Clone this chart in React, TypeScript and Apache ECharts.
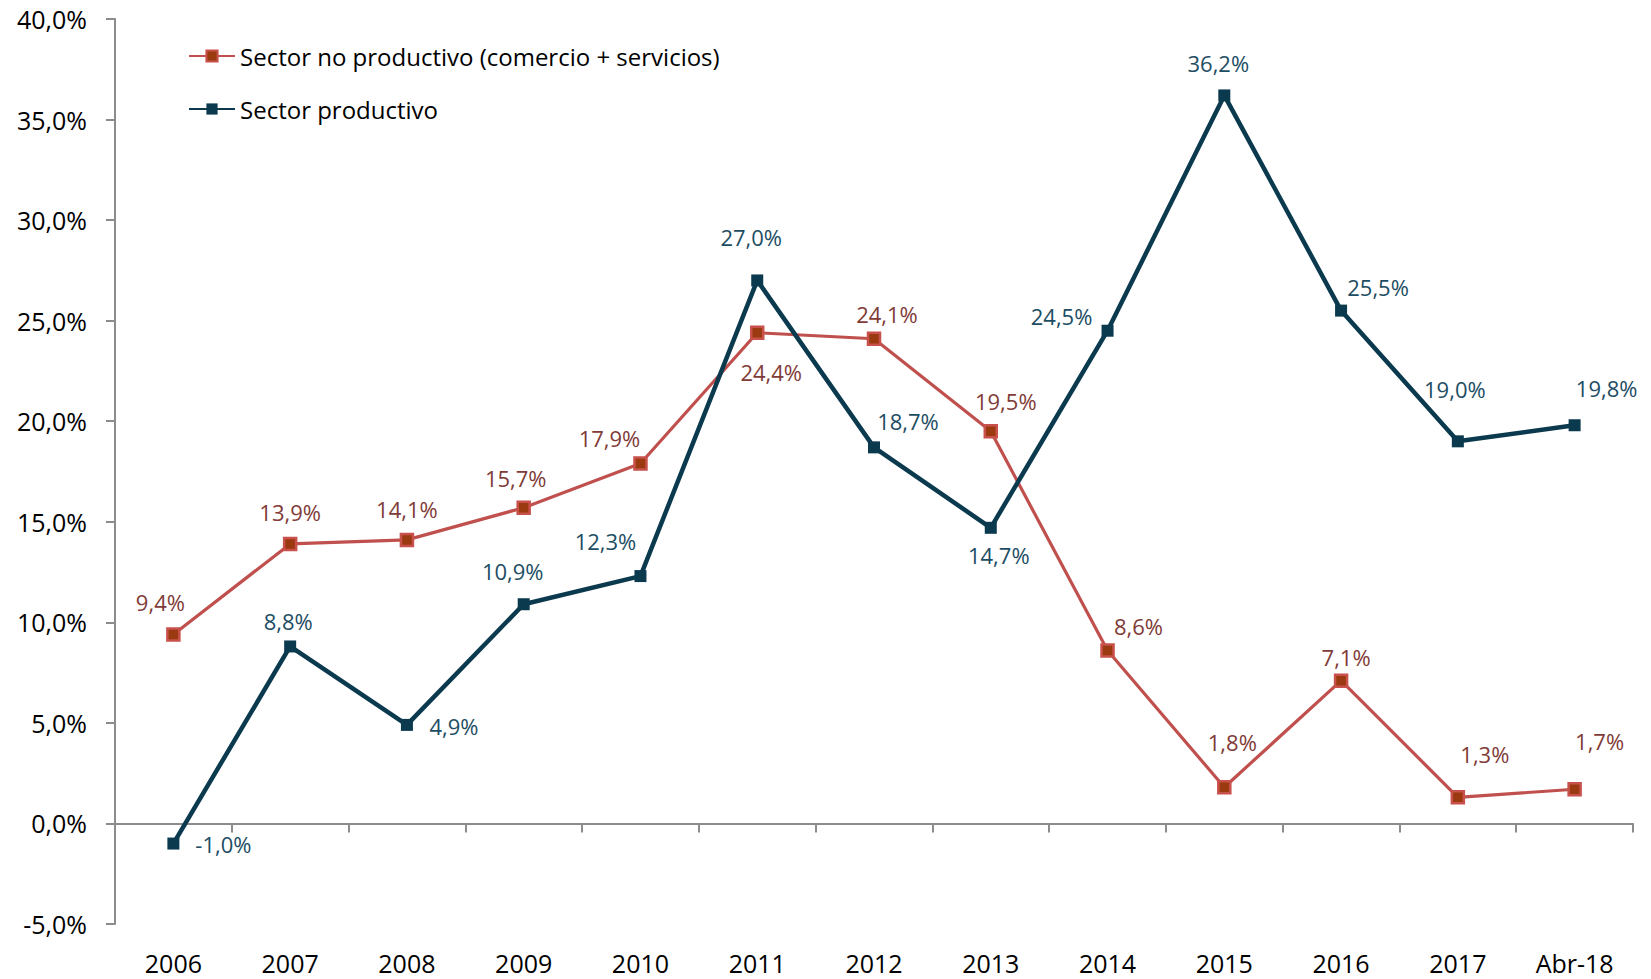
import React, { useEffect, useRef } from "react";
import * as echarts from "echarts";

const categories = ["2006", "2007", "2008", "2009", "2010", "2011", "2012", "2013", "2014", "2015", "2016", "2017", "Abr-18"];
const noProductivo = [9.4, 13.9, 14.1, 15.7, 17.9, 24.4, 24.1, 19.5, 8.6, 1.8, 7.1, 1.3, 1.7];
const productivo = [-1.0, 8.8, 4.9, 10.9, 12.3, 27.0, 18.7, 14.7, 24.5, 36.2, 25.5, 19.0, 19.8];
const seriesNames = ["Sector no productivo (comercio + servicios)", "Sector productivo"];

// label offsets (styling) relative to each point
const noProdOffsets: [number, number][] = [
  [-13, -32], [0, -32], [0, -31], [-8, -30], [-31, -25], [14, 39], [13, -25],
  [15, -30], [31, -24], [8, -45], [5, -24], [27, -43], [25, -48],
];
const prodOffsets: [number, number][] = [
  [50, 0], [-2, -25], [47, 1], [-11, -33], [-35, -35], [-6, -43], [34, -26],
  [8, 27], [-46, -15], [-6, -32], [37, -24], [-3, -52], [32, -37],
];

const FONT = "Open Sans";
const fmt = (v: number) => v.toFixed(1).replace(".", ",") + "%";

export default function App() {
  const ref = useRef<HTMLDivElement>(null);
  useEffect(() => {
    if (!ref.current) return;
    const chart = echarts.init(ref.current, undefined, { renderer: "svg" });
    const mk = (vals: number[], offs: [number, number][], color: string) =>
      vals.map((v, i) => ({
        value: v,
        label: { show: true, position: "inside", offset: offs[i], color, fontSize: 22, fontFamily: FONT, formatter: (p: any) => fmt(p.value) },
      }));
    chart.setOption({
      animation: false,
      backgroundColor: "#ffffff",
      grid: { left: 115, right: 18, top: 19, bottom: 55, containLabel: false },
      legend: {
        orient: "vertical",
        left: 183,
        top: 39,
        itemWidth: 46,
        itemHeight: 14,
        itemGap: 29,
        textStyle: { fontSize: 24, lineHeight: 24, fontFamily: FONT, color: "#000" },
        data: seriesNames,
      },
      xAxis: {
        type: "category",
        data: categories,
        boundaryGap: true,
        axisLine: { onZero: true, lineStyle: { color: "#8c8c8c", width: 2 } },
        axisTick: { show: true, length: 9, alignWithLabel: false, lineStyle: { color: "#8c8c8c", width: 2 } },
        axisLabel: { show: false },
        splitLine: { show: false },
      },
      yAxis: {
        type: "value",
        min: -5,
        max: 40,
        interval: 5,
        axisLine: { show: true, lineStyle: { color: "#8c8c8c", width: 2 } },
        axisTick: { show: true, length: 9, lineStyle: { color: "#8c8c8c", width: 2 } },
        axisLabel: { fontSize: 25, fontFamily: FONT, color: "#000", margin: 28, formatter: (v: number) => fmt(v) },
        splitLine: { show: false },
      },
      series: [
        {
          name: seriesNames[0],
          type: "line",
          data: mk(noProductivo, noProdOffsets, "#7f3b37"),
          symbol: "rect",
          symbolSize: 12,
          lineStyle: { color: "#c0504d", width: 3.2 },
          itemStyle: { color: "#9b3a10", borderColor: "#c9514c", borderWidth: 2.5 },
          z: 2,
        },
        {
          name: seriesNames[1],
          type: "line",
          data: mk(productivo, prodOffsets, "#1d4d63"),
          symbol: "rect",
          symbolSize: 12,
          lineStyle: { color: "#0b3a4f", width: 4.5 },
          itemStyle: { color: "#0b3a4f", borderWidth: 0 },
          z: 3,
        },
      ],
    });
    // category labels at chart bottom (x axis line sits at zero)
    const labels = categories.map((c, i) => {
      const px = chart.convertToPixel({ xAxisIndex: 0 }, i) as number;
      return {
        type: "text",
        silent: true,
        x: px,
        y: 963,
        style: { text: c, fontSize: 25, fontFamily: FONT, fill: "#000", align: "center", verticalAlign: "middle" },
      };
    });
    chart.setOption({ graphic: labels });
    return () => chart.dispose();
  }, []);
  return <div ref={ref} style={{ position: "fixed", left: 0, top: 0, width: 1651, height: 979 }} />;
}
